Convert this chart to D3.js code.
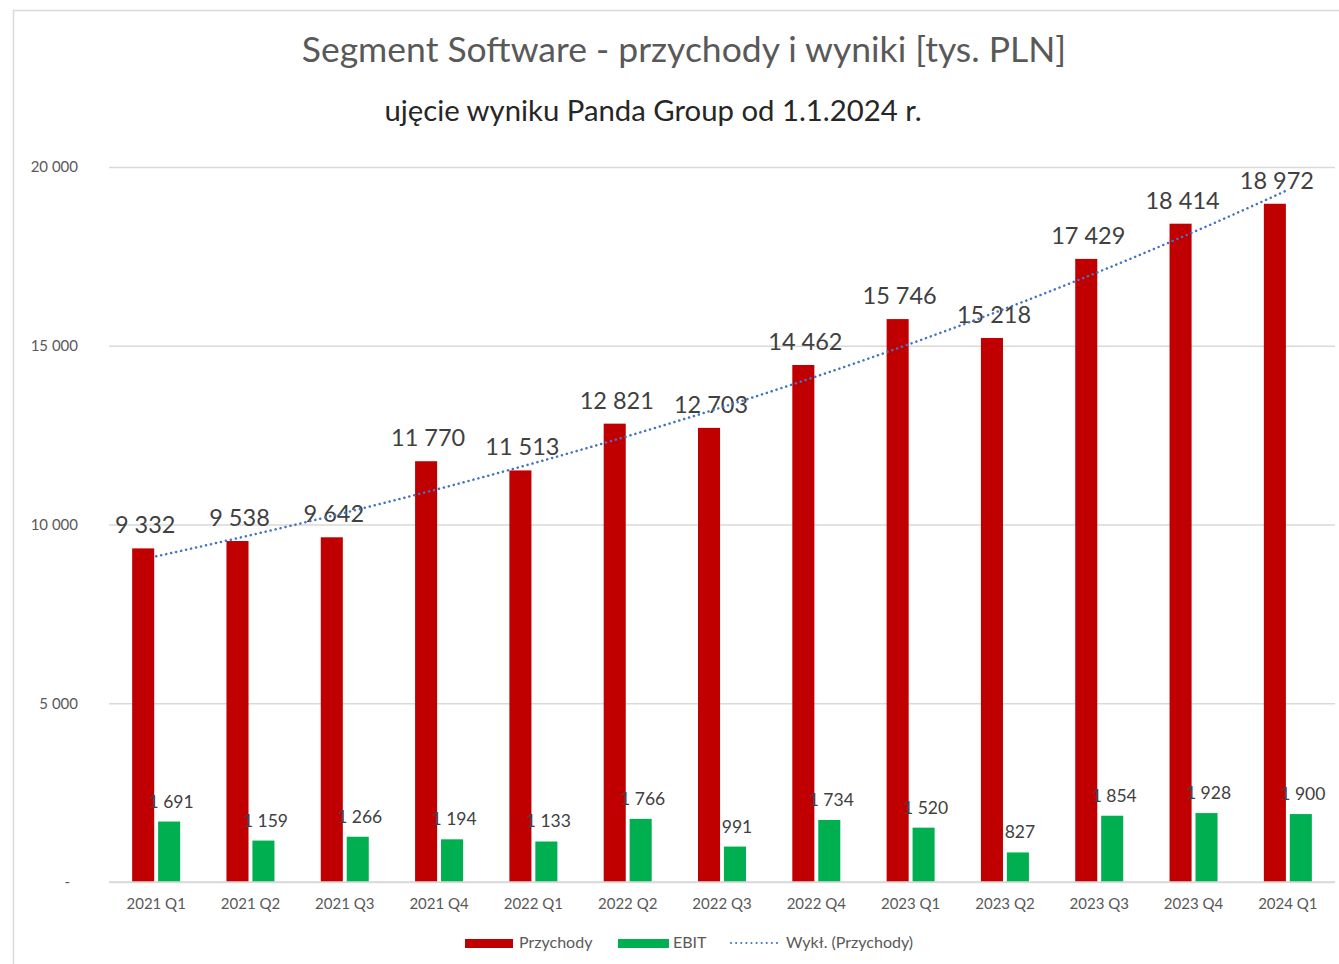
<!DOCTYPE html>
<html>
<head>
<meta charset="utf-8">
<script src="https://cdn.jsdelivr.net/npm/d3@7"></script>
<style>
  html, body { margin: 0; padding: 0; background: #fff; }
  svg { display: block; font-family: Lato, "Noto Sans", sans-serif; }
</style>
</head>
<body>
<div id="chart"></div>
<script>
const width = 1339;
const height = 964;

const categories = ["2021 Q1", "2021 Q2", "2021 Q3", "2021 Q4", "2022 Q1", "2022 Q2", "2022 Q3",
  "2022 Q4", "2023 Q1", "2023 Q2", "2023 Q3", "2023 Q4", "2024 Q1"];
const przychody = [9332, 9538, 9642, 11770, 11513, 12821, 12703, 14462, 15746, 15218, 17429, 18414, 18972];
const ebit = [1691, 1159, 1266, 1194, 1133, 1766, 991, 1734, 1520, 827, 1854, 1928, 1900];
const yTicks = [0, 5000, 10000, 15000, 20000];
const seriesNames = ["Przychody", "EBIT"];

const plot = { left: 109, right: 1335, top: 167, bottom: 882 };

const locale = d3.formatLocale({ decimal: ",", thousands: "\u00a0", grouping: [3], currency: ["", " zł"] });
const fmt = locale.format(",d");

const svg = d3.select("#chart").append("svg")
  .attr("width", width)
  .attr("height", height);

// outer chart border
svg.append("rect")
  .attr("x", 13.5).attr("y", 10.5)
  .attr("width", 1400).attr("height", 1000)
  .attr("fill", "#fff")
  .attr("stroke", "#d9d9d9")
  .attr("stroke-width", 1.5);

svg.append("text")
  .attr("x", 684).attr("y", 62)
  .attr("text-anchor", "middle")
  .attr("fill", "#595959")
  .style("font-size", "35.5px")
  .text("Segment Software - przychody i wyniki [tys. PLN]");

svg.append("text")
  .attr("x", 653).attr("y", 121)
  .attr("text-anchor", "middle")
  .attr("fill", "#262626")
  .style("font-size", "29.3px")
  .text("ujęcie wyniku Panda Group od 1.1.2024 r.");

const x = d3.scaleBand().domain(categories).range([plot.left, plot.right]).padding(0);
const groupW = 48;
const xs = d3.scaleBand().domain(seriesNames).range([0, groupW]).paddingInner(0.15);
const y = d3.scaleLinear().domain([0, 20000]).range([plot.bottom, plot.top]);

// gridlines
svg.append("g")
  .attr("transform", `translate(${plot.left},0)`)
  .call(d3.axisLeft(y).tickValues(yTicks).tickSize(-(plot.right - plot.left)).tickFormat(""))
  .call(g => g.select(".domain").remove())
  .call(g => g.selectAll("line").attr("stroke", "#d9d9d9").attr("stroke-width", 1.3));

// y labels
svg.append("g")
  .attr("transform", `translate(78,0)`)
  .call(d3.axisLeft(y).tickValues(yTicks).tickSize(0).tickPadding(0)
    .tickFormat(d => d === 0 ? "-" : fmt(d)))
  .call(g => g.select(".domain").remove())
  .call(g => g.selectAll("text")
    .attr("fill", "#595959")
    .style("font-size", "15px")
    .style("font-family", "Lato, sans-serif")
    .attr("dx", d => d === 0 ? -8 : 0));

// x labels
svg.append("g")
  .attr("transform", `translate(0,${plot.bottom})`)
  .call(d3.axisBottom(x).tickSize(0).tickPadding(16))
  .call(g => g.select(".domain").remove())
  .call(g => g.selectAll("text")
    .attr("fill", "#595959")
    .style("font-size", "15px")
    .style("font-family", "Lato, sans-serif"));

const groupX = c => x(c) + (x.bandwidth() - groupW) / 2;

const rows = categories.map((c, i) => ({ cat: c, Przychody: przychody[i], EBIT: ebit[i] }));
const colors = { Przychody: "#c00000", EBIT: "#00b050" };

const groups = svg.append("g").selectAll("g")
  .data(rows)
  .join("g")
  .attr("transform", d => `translate(${groupX(d.cat)},0)`);

groups.selectAll("rect")
  .data(d => seriesNames.map(k => ({ key: k, value: d[k] })))
  .join("rect")
  .attr("x", d => xs(d.key))
  .attr("width", xs.bandwidth())
  .attr("y", d => y(d.value))
  .attr("height", d => y(0) - y(d.value))
  .attr("fill", d => colors[d.key]);

// exponential trendline fitted to Przychody (as Excel "Wykł.")
const idx = przychody.map((_, i) => i + 1);
const lnY = przychody.map(v => Math.log(v));
const mx = d3.mean(idx), my = d3.mean(lnY);
const b = d3.sum(idx, (t, i) => (t - mx) * (lnY[i] - my)) / d3.sum(idx, t => (t - mx) ** 2);
const a = my - b * mx;
const trend = [];
for (let t = 1; t <= categories.length; t += 0.25) trend.push({ t, v: Math.exp(a + b * t) });
const tx = d3.scaleLinear().domain([1, categories.length])
  .range([x(categories[0]) + x.bandwidth() / 2, x(categories[categories.length - 1]) + x.bandwidth() / 2]);

svg.append("path")
  .datum(trend)
  .attr("fill", "none")
  .attr("stroke", "#4472c4")
  .attr("stroke-width", 2.5)
  .attr("stroke-linecap", "round")
  .attr("stroke-dasharray", "0.1 5")
  .attr("d", d3.line().x(d => tx(d.t)).y(d => y(d.v)));

// the axis baseline
svg.append("line")
  .attr("x1", plot.left).attr("x2", plot.right)
  .attr("y1", y(0)).attr("y2", y(0))
  .attr("stroke", "#d9d9d9").attr("stroke-width", 1.5);

// data labels
groups.append("text")
  .attr("x", xs("Przychody") + xs.bandwidth() / 2 + 2)
  .attr("y", d => y(d.Przychody) - 15)
  .attr("text-anchor", "middle")
  .attr("fill", "#404040")
  .style("font-size", "23.5px")
  .text(d => fmt(d.Przychody));

groups.append("text")
  .attr("x", xs("EBIT") + xs.bandwidth() / 2 + 2)
  .attr("y", d => y(d.EBIT) - 14)
  .attr("text-anchor", "middle")
  .attr("fill", "#404040")
  .style("font-size", "17.5px")
  .text(d => fmt(d.EBIT));

// legend
const legend = svg.append("g").attr("transform", "translate(0,943)");
legend.append("rect").attr("x", 465).attr("y", -4).attr("width", 48).attr("height", 9).attr("fill", colors.Przychody);
legend.append("text").attr("x", 519).attr("y", 5).attr("fill", "#595959").style("font-size", "16px").text("Przychody");
legend.append("rect").attr("x", 618).attr("y", -4).attr("width", 51).attr("height", 9).attr("fill", colors.EBIT);
legend.append("text").attr("x", 673).attr("y", 5).attr("fill", "#595959").style("font-size", "16px").text("EBIT");
legend.append("line").attr("x1", 731).attr("x2", 778).attr("y1", 0).attr("y2", 0)
  .attr("stroke", "#4472c4").attr("stroke-width", 2).attr("stroke-linecap", "round").attr("stroke-dasharray", "0.1 5");
legend.append("text").attr("x", 786).attr("y", 5).attr("fill", "#595959").style("font-size", "16px").text("Wykł. (Przychody)");
</script>
</body>
</html>
